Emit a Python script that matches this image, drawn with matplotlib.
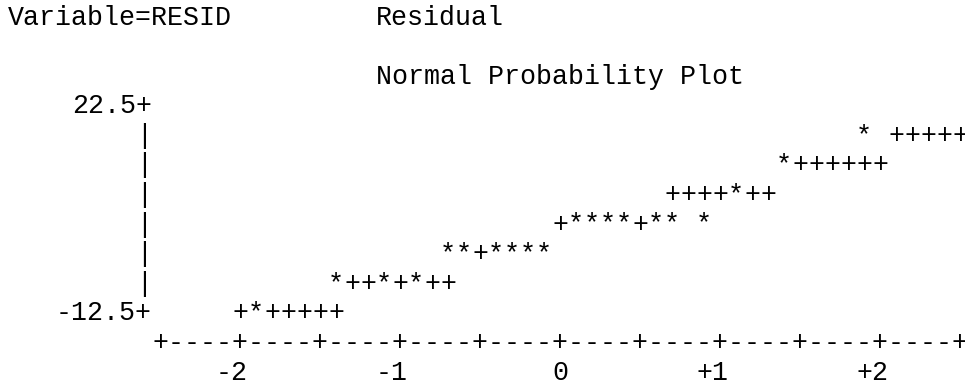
import numpy as np
import matplotlib
matplotlib.use('Agg')
import matplotlib.pyplot as plt

# line-printer style normal probability plot of residuals
title_left = "Variable=RESID"
title_right = "Residual"
subtitle = "Normal Probability Plot"

# plotted points: normal quantile vs residual
star_q = [-1.9, -1.4, -1.1, -0.9, -0.7, -0.6, -0.4, -0.3, -0.2, -0.1,
          0.1, 0.2, 0.3, 0.4, 0.6, 0.7, 0.9, 1.1, 1.4, 1.9]
star_resid = [-12.5, -7.5, -7.5, -7.5, -2.5, -2.5, -2.5, -2.5, -2.5, -2.5,
              2.5, 2.5, 2.5, 2.5, 2.5, 2.5, 2.5, 7.5, 12.5, 17.5]

# reference line, one print row at a time (row value, quantile range)
ref_rows = [-12.5, -7.5, -2.5, 2.5, 7.5, 12.5, 17.5]
ref_from = [-2.0, -1.3, -0.6, 0.0, 0.7, 1.4, 2.1]
ref_to = [-1.4, -0.7, -0.1, 0.6, 1.3, 2.0, 2.5]

y_top, y_bottom = 22.5, -12.5
x_ticks = [-2, -1, 0, 1, 2]
x_ticklabels = ['-2', '-1', '0', '+1', '+2']
x_min, x_max = -2.5, 2.5

CPU = 10      # print columns per quantile unit
RSTEP = 5.0   # residual units per print row
FONT = dict(family='Liberation Mono', fontsize=19.2, color='black')

fig = plt.figure(figsize=(9.65, 3.84), dpi=100)
ax = fig.add_axes([0, 0, 1, 1])
ax.axis('off')
ax.set_xlim(-3.5, 2.53125)
ax.set_ylim(-23.23, 41.64)

half = 0.5 / CPU
first_col = -3.4   # quantile at the left-most print column

def row_y(n):
    # print row n -> residual value
    return y_top - RSTEP * (n - 3)

def put(x, y, s, ha='center'):
    ax.text(x, y, s, ha=ha, va='baseline', **FONT)

# header lines
put(first_col - half, row_y(0), title_left, ha='left')
put(-1.1 - half, row_y(0), title_right, ha='left')
put(-1.1 - half, row_y(2), subtitle, ha='left')

# vertical axis
yax = x_min - 0.1   # column of the vertical rule
put(yax + half, y_top, f"{y_top:g}+", ha='right')
put(yax + half, y_bottom, f"{y_bottom:g}+", ha='right')
for y in np.arange(y_top - RSTEP, y_bottom, -RSTEP):
    put(yax, y, '|')

# horizontal axis
ncol = int(round((x_max - x_min) * CPU)) + 1
axis_str = ''.join('+' if i % 5 == 0 else '-' for i in range(ncol))
put(x_min - half, row_y(11), axis_str, ha='left')
for t, lab in zip(x_ticks, x_ticklabels):
    put(t + half, row_y(12), lab, ha='right')

# reference line pluses, hidden where a point sits
stars = set(zip([int(round(q * CPU)) for q in star_q], star_resid))
for ry, a, b in zip(ref_rows, ref_from, ref_to):
    for c in range(int(round(a * CPU)), int(round(b * CPU)) + 1):
        if (c, ry) not in stars:
            put(c / CPU, ry, '+')

# data points
for q, r in zip(star_q, star_resid):
    put(q, r, '*')

fig.savefig('out.png', dpi=100)
